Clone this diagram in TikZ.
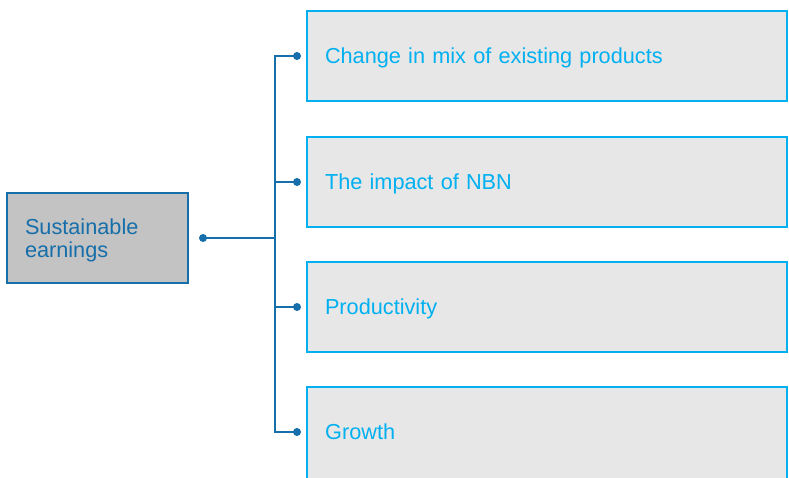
\documentclass[tikz,border=0pt]{standalone}
\usepackage{fontspec}
\setmainfont{Liberation Sans}
\definecolor{darkblue}{RGB}{22,110,170}
\definecolor{lightblue}{RGB}{0,176,240}
\definecolor{boxgrey}{RGB}{231,231,231}
\definecolor{srcgrey}{RGB}{195,195,195}
\tikzset{
  itembox/.style={draw=lightblue, fill=boxgrey, line width=2.4pt, rectangle,
    anchor=north west, minimum width=480pt, minimum height=90pt,
    text width=444pt, align=left, inner xsep=18pt, inner ysep=0pt, outer sep=0pt,
    text height=18.5pt, text depth=4.5pt,
    text=lightblue, font=\fontsize{21.7}{25}\selectfont},
  srcbox/.style={draw=darkblue, fill=srcgrey, line width=2.6pt, rectangle,
    anchor=north west, minimum width=181pt, minimum height=90pt,
    text width=145pt, align=left, inner xsep=18pt, inner ysep=0pt, outer sep=0pt,
    text height=20pt, text depth=28pt,
    text=darkblue, font=\fontsize{21.7}{23.5}\selectfont},
  conn/.style={draw=darkblue, line width=2.4pt},
  dot/.style={fill=darkblue}
}
\begin{document}
\begin{tikzpicture}[x=1pt,y=-1pt]
\clip (0,0) rectangle (789,477);
\fill[white] (0,0) rectangle (789,477);
\node[srcbox] (L) at (7,193) {Sustainable\\earnings};
\node[itembox] (B1) at (307,11) {Change in mix of existing products};
\node[itembox] (B2) at (307,137) {The impact of NBN};
\node[itembox] (B3) at (307,262) {Productivity};
\node[itembox, minimum height=92pt] (B4) at (307,387) {};
\node[anchor=west, inner xsep=18pt, inner ysep=0pt, text height=18.5pt, text depth=4.5pt, text=lightblue, font=\fontsize{21.7}{25}\selectfont] (T4) at (307,432) {Growth};
\coordinate (s) at (203,238);
\coordinate (j) at (275,238);
\coordinate (b1) at ([xshift=-10pt]B1.west);
\coordinate (b2) at ([xshift=-10pt]B2.west);
\coordinate (b3) at ([xshift=-10pt]B3.west);
\coordinate (b4) at (297,432);
\draw[conn] (s) -- (j);
\draw[conn] (j) |- (b1);
\draw[conn] (j) |- (b2);
\draw[conn] (j) |- (b3);
\draw[conn] (j) |- (b4);
\foreach \p in {s,b1,b2,b3,b4} \fill[dot] (\p) circle (4);
\end{tikzpicture}
\end{document}
